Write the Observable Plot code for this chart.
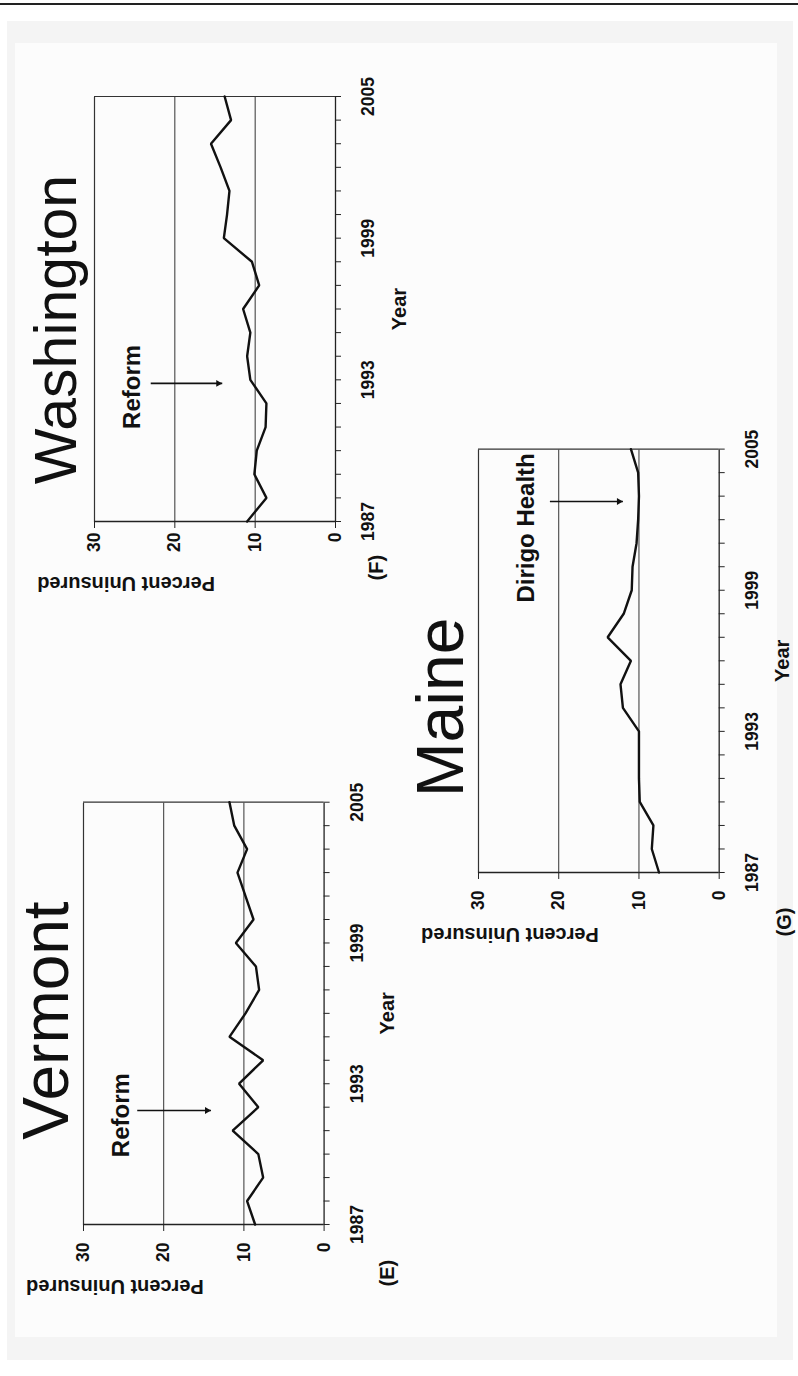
<!DOCTYPE html>
<html><head><meta charset="utf-8">
<script src="https://cdn.jsdelivr.net/npm/d3@7"></script>
<script src="https://cdn.jsdelivr.net/npm/@observablehq/plot@0.6"></script>
<style>
html,body{margin:0;padding:0;background:#fff;width:798px;height:1376px;overflow:hidden;}
#topline{position:absolute;left:0;top:3px;width:798px;height:1.5px;background:#222;}
#sheet{position:absolute;left:7px;top:21px;width:786px;height:1339px;background:#f4f4f4;}
#inner{position:absolute;left:15px;top:43px;width:762px;height:1294px;background:#fcfcfc;}
#page{position:absolute;left:0;top:0;width:1376px;height:798px;transform-origin:0 0;transform:translate(0px,1376px) rotate(-90deg);}
#page svg{position:absolute;}
</style></head><body>
<div id="topline"></div><div id="sheet"></div><div id="inner"></div>
<div id="page"></div>
<script>
// ---- data ----
const years = [1987,1988,1989,1990,1991,1992,1993,1994,1995,1996,1997,1998,1999,2000,2001,2002,2003,2004,2005];
const labeledYears = [1987, 1993, 1999, 2005];
const valueTicks = [0, 10, 20, 30];
const gridValues = [10, 20];
const washington = [11.0, 8.6, 10.1, 9.8, 8.7, 8.6, 10.6, 11.0, 10.6, 11.5, 9.5, 10.4, 13.9, 13.5, 13.2, 14.3, 15.5, 13.0, 13.8];
const vermont    = [8.6, 9.6, 7.6, 8.2, 11.4, 8.2, 10.6, 7.6, 11.8, 9.8, 8.1, 8.5, 11.0, 8.8, 9.8, 10.8, 9.6, 11.2, 11.8];
const maine      = [7.5, 8.4, 8.2, 9.9, 10.0, 10.0, 10.0, 12.0, 12.3, 11.0, 13.9, 11.9, 10.9, 10.8, 10.3, 10.1, 10.0, 10.1, 11.0];
const stateNames = ["Washington", "Vermont", "Maine"];
const panelTags = ["(F)", "(E)", "(G)"];
const notes = [
  {label: "Reform", year: 1992.85, from: 23.0, to: 14.1, textYear: 1992.7, textValue: 25.3},
  {label: "Reform", year: 1991.86, from: 23.3, to: 14.1, textYear: 1991.66, textValue: 25.3},
  {label: "Dirigo Health", year: 2002.77, from: 21.1, to: 12.0, textYear: 2001.65, textValue: 24.05}
];

// ---- layout (landscape frame, rotated onto the page) ----
const layout = [
  {u0: 854, u1: 1279, v0: 94, v1: 335, titleDx: 192, titleDy: -19, titleSize: 59, yPad: 5, tagDx: -59, tagDy: 47},
  {u0: 151, u1: 573.3, v0: 82.7, v1: 323.3, titleDx: 204, titleDy: -15, titleSize: 64, yPad: 12, tagDx: -62, tagDy: 70},
  {u0: 503.3, u1: 926.7, v0: 478.3, v1: 719, titleDx: 165, titleDy: -15, titleSize: 66, yPad: 12, tagDx: -64, tagDy: 72}
];
const series = [washington, vermont, maine];
const FONT = "'Liberation Sans', Arial, Helvetica, sans-serif";

function makePanel(i) {
  const c = layout[i];
  const mL = 100, mR = 40, mT = 110, mB = 100;
  const w = (c.u1 - c.u0) + mL + mR, h = (c.v1 - c.v0) + mT + mB;
  const data = years.map((y, k) => ({year: y, value: series[i][k]}));
  const n = notes[i];
  const plot = Plot.plot({
    width: w, height: h,
    marginLeft: mL, marginRight: mR, marginTop: mT, marginBottom: mB,
    x: {domain: [1987, 2005]},
    y: {domain: [0, 30]},
    style: {background: "transparent", fontFamily: FONT, color: "#111", overflow: "visible", maxWidth: "none"},
    marks: [
      Plot.ruleY(gridValues, {stroke: "#333", strokeWidth: 1}),
      Plot.ruleY([30], {stroke: "#333", strokeWidth: 1.2}),
      Plot.ruleX([2005], {stroke: "#333", strokeWidth: 1.2}),
      Plot.axisY(valueTicks, {tickSize: 6, tickPadding: c.yPad, fontSize: 17.5, fontWeight: "bold", label: null, stroke: "#222", fontFamily: FONT}),
      Plot.axisX(years, {tickSize: 6, tickPadding: 20, fontSize: 17.5, fontWeight: "bold", label: null, stroke: "#222", fontFamily: FONT,
        tickFormat: d => labeledYears.includes(d) ? String(d) : ""}),
      Plot.ruleY([0], {stroke: "#222", strokeWidth: 1.3}),
      Plot.ruleX([1987], {stroke: "#222", strokeWidth: 1.3}),
      Plot.line(data, {x: "year", y: "value", stroke: "#111", strokeWidth: 2.4, strokeLinejoin: "miter"}),
      Plot.link([n], {x1: "year", x2: "year", y1: "from", y2: "to", stroke: "#111", strokeWidth: 1.6}),
      Plot.dot([n], {x: "year", y: "to", symbol: "triangle2", r: 3.3, fill: "#111", stroke: "none", rotate: 180, dy: -4}),
      Plot.text([n], {x: "textYear", y: "textValue", text: "label", fontSize: 24, fontWeight: "bold", fill: "#111", fontFamily: FONT}),
      Plot.text([stateNames[i]], {frameAnchor: "top-left", dx: c.titleDx, dy: c.titleDy, text: d => d, lineAnchor: "bottom", textAnchor: "middle", fontSize: c.titleSize, fill: "#111", fontFamily: FONT}),
      Plot.text(["Year"], {frameAnchor: "bottom", dy: 70, text: d => d, fontSize: 20, fontWeight: "bold", fill: "#111", fontFamily: FONT}),
      Plot.text(["Percent Uninsured"], {frameAnchor: "left", dx: -62, rotate: -90, text: d => d, fontSize: 20, fontWeight: "bold", fill: "#111", fontFamily: FONT}),
      Plot.text([panelTags[i]], {frameAnchor: "bottom-left", dx: c.tagDx, dy: c.tagDy, text: d => d, fontSize: 20, fontWeight: "bold", fill: "#111", fontFamily: FONT})
    ]
  });
  plot.style.left = (c.u0 - mL) + "px";
  plot.style.top = (c.v0 - mT) + "px";
  document.getElementById("page").appendChild(plot);
}
[0, 1, 2].forEach(makePanel);
</script>
</body></html>
